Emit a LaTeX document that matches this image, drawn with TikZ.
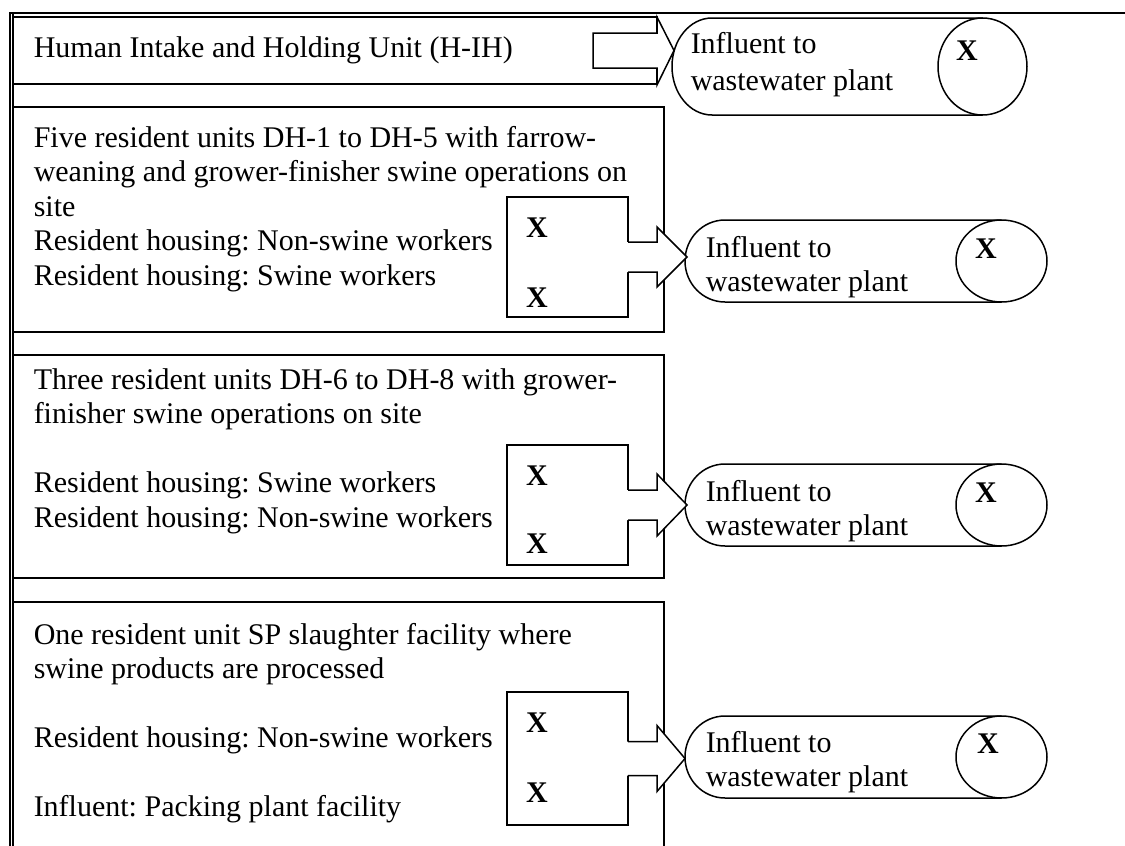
\documentclass[tikz,border=0pt]{standalone}
\usepackage{fontspec}
\setmainfont{Liberation Serif}
\usetikzlibrary{calc,shapes.geometric}
\frenchspacing
\newcommand\blkarrow[4]{%
  \fill[white] ($(#1.east)+(-1.5,-#2)$) -- ($(#1.east)+(29,-#2)$) -- ($(#1.east)+(29,-#3)$) -- ($(#1.east)+(#4,0)$) -- ($(#1.east)+(29,#3)$) -- ($(#1.east)+(29,#2)$) -- ($(#1.east)+(-1.5,#2)$) -- cycle;
  \draw[linejoin] ($(#1.east)+(0,-#2)$) -- ($(#1.east)+(29,-#2)$) -- ($(#1.east)+(29,-#3)$) -- ($(#1.east)+(#4,0)$) -- ($(#1.east)+(29,#3)$) -- ($(#1.east)+(29,#2)$) -- ($(#1.east)+(0,#2)$);}
\newcommand\stadiumline[3]{%
  \draw (#2.north) -- ([xshift=20pt]#1.north west) arc[start angle=90, end angle=270, x radius=20pt, y radius=#3] -- (#2.south);}
\begin{document}
\begin{tikzpicture}[x=0.5pt,y=-0.5pt,line width=0.75pt,
  linejoin/.style={line join=miter},
  cell/.style={draw, fill=white, anchor=north west, inner sep=0pt, outer sep=0pt},
  circ/.style={draw, fill=none, ellipse, inner sep=0pt, outer sep=0pt},
  stad/.style={inner sep=0pt, outer sep=0pt, anchor=west},
  txt/.style={anchor=base west, inner sep=0pt, font=\fontsize{15}{17.25}\selectfont},
  bx/.style={anchor=base, inner sep=0pt, font=\fontsize{15}{17.25}\selectfont\bfseries}]
\useasboundingbox (0,0) rectangle (1125,846);
\clip (0,0) rectangle (1125,846);
% outer frame
\draw[line width=1pt] (1130,13) -- (10,13) -- (10,870);
\draw[line width=1pt] (13,14) -- (13,870);
% row boxes
\node[cell, minimum width=322pt, minimum height=33.5pt] (b1) at (13,17) {};
\node[cell, minimum width=325.5pt, minimum height=112.5pt] (b2) at (13,107) {};
\node[cell, minimum width=325.5pt, minimum height=111.5pt] (b3) at (13,355) {};
\node[cell, minimum width=325.5pt, minimum height=139pt] (b4) at (13,602) {};
% inner boxes
\node[cell, minimum width=60.5pt, minimum height=60pt] (ib2) at (507,197) {};
\node[cell, minimum width=60.5pt, minimum height=60pt] (ib3) at (507,445) {};
\node[cell, minimum width=60.5pt, minimum height=66.5pt] (ib4) at (507,692) {};
% circles and stadiums
\node[circ, minimum width=44.5pt, minimum height=48.5pt] (c1) at (982.5,66.5) {};
\node[circ, minimum width=45.5pt, minimum height=41pt] (c2) at (1001.5,261) {};
\node[circ, minimum width=45.5pt, minimum height=41pt] (c3) at (1001.5,505) {};
\node[circ, minimum width=45.5pt, minimum height=41pt] (c4) at (1001.5,757) {};
\node[stad, minimum width=177.5pt, minimum height=48.5pt] (s1) at (672,66.5) {};
\node[stad, minimum width=181pt, minimum height=41pt] (s2) at (685,261) {};
\node[stad, minimum width=181pt, minimum height=41pt] (s3) at (685,505) {};
\node[stad, minimum width=181pt, minimum height=41pt] (s4) at (685,757) {};
\stadiumline{s1}{c1}{24.25pt}
\stadiumline{s2}{c2}{20.5pt}
\stadiumline{s3}{c3}{20.5pt}
\stadiumline{s4}{c4}{20.5pt}
% block arrow of row 1
\coordinate (a1) at (593,50.5);
\filldraw[fill=white, linejoin] (a1) ++(0,-17.5) -- (657,33) -- (657,17) -- (674,50.5) -- (657,85) -- (657,68) -- (593,68) -- cycle;
% block arrows of rows 2-4
\blkarrow{ib2}{15}{30}{59}
\blkarrow{ib3}{15}{31}{59}
\blkarrow{ib4}{17}{33}{57}
% texts row 1
\node[txt] (t1) at (33,57) {Human Intake and Holding Unit (H-IH)};
\node[txt] (i1a) at (690,54) {Influent to};
\node[txt] (i1b) at (690,90) {wastewater plant};
\node[bx] (x1) at (967,60) {X};
% row 2
\node[txt] (t2a) at (33,147) {Five resident units DH-1 to DH-5 with farrow-};
\node[txt] (t2b) at (33,181.5) {weaning and grower-finisher swine operations on};
\node[txt] (t2c) at (33,216) {site};
\node[txt] (t2d) at (33,250.5) {Resident housing: Non-swine workers};
\node[txt] (t2e) at (33,285) {Resident housing: Swine workers};
\node[bx] (x2a) at (537,237) {X};
\node[bx] (x2b) at (537,307) {X};
\node[txt] (i2a) at (705,257) {Influent to};
\node[txt] (i2b) at (705,291) {wastewater plant};
\node[bx] (x2) at (986,258) {X};
% row 3
\node[txt] (t3a) at (33,389) {Three resident units DH-6 to DH-8 with grower-};
\node[txt] (t3b) at (33,423.5) {finisher swine operations on site};
\node[txt] (t3c) at (33,492.5) {Resident housing: Swine workers};
\node[txt] (t3d) at (33,527) {Resident housing: Non-swine workers};
\node[bx] (x3a) at (537,485) {X};
\node[bx] (x3b) at (537,553) {X};
\node[txt] (i3a) at (705,501) {Influent to};
\node[txt] (i3b) at (705,535) {wastewater plant};
\node[bx] (x3) at (986,502) {X};
% row 4
\node[txt] (t4a) at (33,644) {One resident unit SP slaughter facility where};
\node[txt] (t4b) at (33,678.5) {swine products are processed};
\node[txt] (t4c) at (33,747.5) {Resident housing: Non-swine workers};
\node[txt] (t4d) at (33,816.5) {Influent: Packing plant facility};
\node[bx] (x4a) at (537,732) {X};
\node[bx] (x4b) at (537,802) {X};
\node[txt] (i4a) at (705,752) {Influent to};
\node[txt] (i4b) at (705,786) {wastewater plant};
\node[bx] (x4) at (988,753) {X};
\end{tikzpicture}
\end{document}
